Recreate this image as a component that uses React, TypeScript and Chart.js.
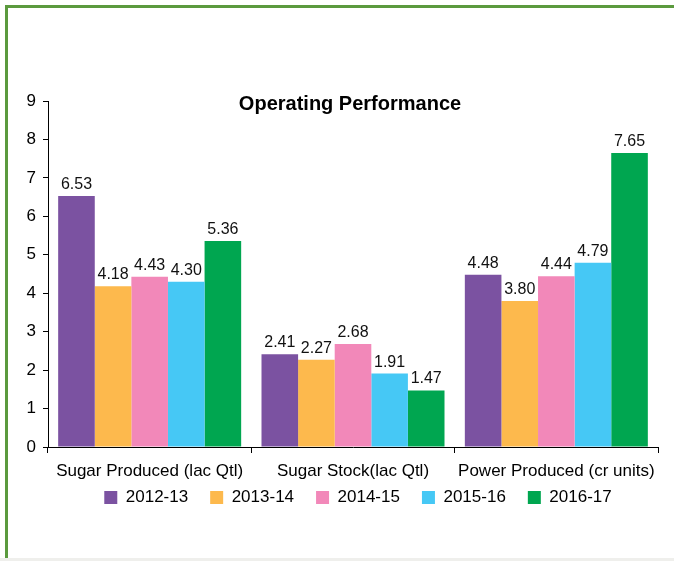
import React, { useEffect, useRef } from "react";
import { Chart, registerables } from "chart.js";

Chart.register(...registerables);

const categories = ["Sugar Produced (lac Qtl)", "Sugar Stock(lac Qtl)", "Power Produced (cr units)"];
const years = ["2012-13", "2013-14", "2014-15", "2015-16", "2016-17"];
const values2012 = [6.53, 2.41, 4.48];
const values2013 = [4.18, 2.27, 3.8];
const values2014 = [4.43, 2.68, 4.44];
const values2015 = [4.3, 1.91, 4.79];
const values2016 = [5.36, 1.47, 7.65];
const seriesValues = [values2012, values2013, values2014, values2015, values2016];
const colors = ["#7b52a1", "#fdb94d", "#f288b9", "#46c8f5", "#00a650"];
const titleText = "Operating Performance";

const FONT = "Arial, 'Liberation Sans', sans-serif";

const valueLabels = {
  id: "valueLabels",
  afterDatasetsDraw(chart: any) {
    const ctx = chart.ctx;
    ctx.save();
    ctx.font = `16px ${FONT}`;
    ctx.fillStyle = "#111";
    ctx.textAlign = "center";
    ctx.textBaseline = "alphabetic";
    chart.data.datasets.forEach((ds: any, i: number) => {
      const meta = chart.getDatasetMeta(i);
      meta.data.forEach((bar: any, j: number) => {
        ctx.fillText(Number(ds.data[j]).toFixed(2), bar.x, bar.y - 7);
      });
    });
    ctx.restore();
  },
};

const innerTitle = {
  id: "innerTitle",
  afterDraw(chart: any) {
    const ctx = chart.ctx;
    const { left, right } = chart.chartArea;
    ctx.save();
    ctx.font = `bold 20px ${FONT}`;
    ctx.fillStyle = "#000";
    ctx.textAlign = "center";
    ctx.textBaseline = "alphabetic";
    ctx.fillText(titleText, (left + right) / 2 - 3, 110);
    ctx.restore();
  },
};

const shiftLegend = {
  id: "shiftLegend",
  afterLayout(chart: any) {
    const l = chart.legend;
    if (l) {
      l.left += 29;
      l.right += 29;
      l.top -= 13;
      l.bottom -= 13;
    }
  },
};

export default function App() {
  const ref = useRef<HTMLCanvasElement | null>(null);

  useEffect(() => {
    if (!ref.current) return;
    const chart = new Chart(ref.current, {
      type: "bar",
      data: {
        labels: categories,
        datasets: years.map((y, i) => ({
          label: y,
          data: seriesValues[i],
          backgroundColor: colors[i],
          borderWidth: 0,
          categoryPercentage: 0.9,
          barPercentage: 1,
        })),
      },
      options: {
        responsive: false,
        animation: false,
        layout: { padding: { left: 0, right: 16, top: 101, bottom: 32 } },
        plugins: {
          title: { display: false },
          tooltip: { enabled: false },
          legend: {
            position: "bottom",
            labels: {
              boxWidth: 13,
              boxHeight: 13,
              padding: 22,
              color: "#000",
              font: { size: 17, family: FONT },
            },
          },
        },
        scales: {
          x: {
            grid: {
              offset: true,
              drawOnChartArea: false,
              drawTicks: true,
              tickLength: 6,
              color: "#000",
            },
            border: { color: "#000", width: 1 },
            ticks: {
              color: "#000",
              padding: 8,
              maxRotation: 0,
              autoSkip: false,
              font: { size: 17, family: FONT },
            },
            afterFit(scale: any) {
              scale.height = 33;
            },
          },
          y: {
            min: 0,
            max: 9,
            ticks: {
              stepSize: 1,
              color: "#000",
              padding: 7,
              font: { size: 17, family: FONT },
            },
            grid: {
              drawOnChartArea: false,
              drawTicks: true,
              tickLength: 5,
              color: "#000",
            },
            border: { color: "#000", width: 1 },
            afterFit(scale: any) {
              scale.width = 48;
            },
          },
        },
      },
      plugins: [valueLabels, innerTitle, shiftLegend],
    });
    return () => chart.destroy();
  }, []);

  return (
    <div style={{ position: "fixed", left: 0, top: 0, width: 674, height: 561, background: "#fff", overflow: "hidden" }}>
      <div
        style={{
          position: "absolute",
          left: 5,
          top: 5,
          width: 700,
          height: 600,
          borderTop: "3px solid #5b9a3e",
          borderLeft: "3px solid #5b9a3e",
          boxSizing: "border-box",
        }}
      />
      <div style={{ position: "absolute", left: 0, top: 558, width: 674, height: 3, background: "#efefec" }} />
      <canvas ref={ref} width={674} height={561} style={{ position: "absolute", left: 0, top: 0 }} />
    </div>
  );
}
